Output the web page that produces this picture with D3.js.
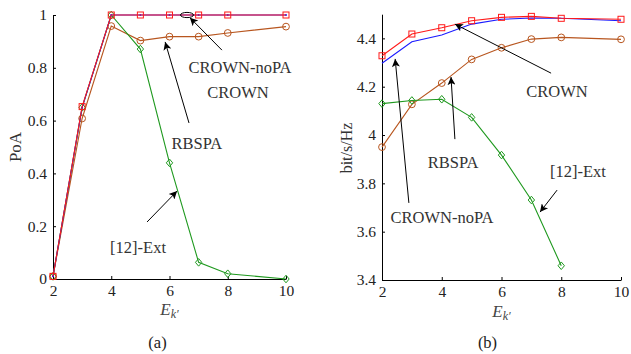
<!DOCTYPE html>
<html><head><meta charset="utf-8">
<script src="https://cdn.jsdelivr.net/npm/d3@7/dist/d3.min.js"></script>
<style>
body{margin:0;background:#fff;}
svg{display:block;font-family:"Liberation Serif","Times New Roman",serif;}
</style></head>
<body><svg id="c" width="631" height="354"></svg>
<script>
// ---------- data ----------
const xVals = [2, 3, 4, 5, 6, 7, 8, 10];
const xTicks = [2, 4, 6, 8, 10];
// (a) PoA
const poaCrown   = [0.01, 0.65, 1, 1, 1, 1, 1, 1];
const poaNoPA    = [0.01, 0.653, 1, 1, 1, 1, 1, 1];
const poaRbspa   = [0.01, 0.608, 0.958, 0.903, 0.918, 0.918, 0.932, 0.956];
const poaExt     = [0.01, 0.65, 1.0, 0.871, 0.44, 0.063, 0.02, 0.0];
const poaTicks   = [0, 0.2, 0.4, 0.6, 0.8, 1];
const poaTickLabels = ["0", "0.2", "0.4", "0.6", "0.8", "1"];
// (b) bit/s/Hz
const rateCrown  = [4.297, 4.386, 4.414, 4.459, 4.479, 4.484, 4.483, 4.473];
const rateNoPA   = [4.328, 4.418, 4.444, 4.473, 4.487, 4.491, 4.483, 4.479];
const rateRbspa  = [3.95, 4.127, 4.215, 4.313, 4.361, 4.397, 4.404, 4.396];
const rateExtX   = [2, 3, 4, 5, 6, 7, 8];
const rateExt    = [4.130, 4.143, 4.148, 4.073, 3.917, 3.731, 3.459];
const rateTicks  = [3.4, 3.6, 3.8, 4, 4.2, 4.4];
const rateTickLabels = ["3.4", "3.6", "3.8", "4", "4.2", "4.4"];

const COL = {red:"#ff1a1a", blue:"#1a1aff", brown:"#b8561f", green:"#1f991f"};

const svg = d3.select("#c");
const defs = svg.append("defs");
defs.append("marker").attr("id","ah").attr("viewBox","0 0 10 10").attr("refX",10).attr("refY",5)
  .attr("markerWidth",10).attr("markerHeight",8).attr("markerUnits","userSpaceOnUse").attr("orient","auto")
  .append("path").attr("d","M0,0 L10,5 L0,10 L2.5,5 Z").attr("fill","#000");

function panel(cfg){
  const g = svg.append("g");
  const x = d3.scaleLinear().domain([2,10]).range(cfg.xr);
  const y = d3.scaleLinear().domain(cfg.yd).range(cfg.yr);
  // axes
  const ax = g.append("g").attr("transform",`translate(0,${cfg.yr[0]})`)
    .call(d3.axisBottom(x).tickValues(xTicks).tickFormat(d3.format("d")).tickSize(-3).tickSizeOuter(0).tickPadding(5));
  const ay = g.append("g").attr("transform",`translate(${cfg.xr[0]},0)`)
    .call(d3.axisLeft(y).tickValues(cfg.yTicks).tickFormat((d,i)=>cfg.yLabels[i]).tickSize(-3).tickSizeOuter(0).tickPadding(6));
  [ax,ay].forEach(a=>{
    a.selectAll("text").attr("font-size",15.5).attr("fill","#222").attr("font-family","Liberation Serif");
    a.selectAll("path,line").attr("stroke","#000");
  });
  ax.selectAll("text").attr("dy","0.8em");
  // series
  const line = d3.line().x(d=>x(d[0])).y(d=>y(d[1]));
  cfg.series.forEach(s=>{
    const pts = s.xs.map((v,i)=>[v,s.ys[i]]);
    g.append("path").datum(pts).attr("d",line).attr("fill","none").attr("stroke",s.color).attr("stroke-width",1.1);
    const m = g.append("g");
    pts.forEach(p=>{
      const cx=x(p[0]), cy=y(p[1]);
      if(s.marker==="square") m.append("rect").attr("x",cx-3).attr("y",cy-3).attr("width",6).attr("height",6).attr("fill","none").attr("stroke",s.color);
      else if(s.marker==="circle") m.append("circle").attr("cx",cx).attr("cy",cy).attr("r",3.4).attr("fill","none").attr("stroke",s.color);
      else if(s.marker==="diamond") m.append("path").attr("d",`M${cx},${cy-3.8}L${cx+3.2},${cy}L${cx},${cy+3.8}L${cx-3.2},${cy}Z`).attr("fill","none").attr("stroke",s.color);
      else if(s.marker==="dot") m.append("circle").attr("cx",cx).attr("cy",cy).attr("r",1).attr("fill",s.color);
    });
  });
  // annotations
  cfg.arrows.forEach(a=>{
    g.append("line").attr("x1",x(a[0])).attr("y1",y(a[1])).attr("x2",x(a[2])).attr("y2",y(a[3]))
      .attr("stroke","#000").attr("stroke-width",1).attr("marker-end","url(#ah)");
  });
  cfg.texts.forEach(t=>{
    g.append("text").attr("x",x(t[1])).attr("y",y(t[2])).attr("dy","0.35em").attr("text-anchor","middle")
      .attr("font-size",16.5).attr("fill","#333").text(t[0]);
  });
  if(cfg.ellipse){
    g.append("ellipse").attr("cx",x(cfg.ellipse[0])).attr("cy",y(cfg.ellipse[1])).attr("rx",6.5).attr("ry",2.6)
      .attr("fill","none").attr("stroke","#000").attr("stroke-width",1);
  }
  // y label
  g.append("text").attr("transform",`translate(${cfg.ylabX},${cfg.ylabY}) rotate(-90)`).attr("text-anchor","middle")
    .attr("font-size",cfg.ylabSize).attr("fill","#333").text(cfg.ylab);
  // x label
  const xl = g.append("text").attr("x",x(6)).attr("y",cfg.xlabY).attr("text-anchor","middle").attr("fill","#444");
  xl.append("tspan").attr("font-style","italic").attr("font-size",17).text("E");
  xl.append("tspan").attr("font-style","italic").attr("font-size",12).attr("dy",3).text("k′");
  g.append("text").attr("x",x(6)-cfg.capShift).attr("y",348).attr("text-anchor","middle").attr("font-size",16.5).attr("fill","#222").text(cfg.cap);
}

panel({
  xr:[53,286], yd:[0,1], yr:[279,15], yTicks:poaTicks, yLabels:poaTickLabels,
  series:[
    {xs:xVals, ys:poaRbspa, color:COL.brown, marker:"circle"},
    {xs:xVals, ys:poaExt, color:COL.green, marker:"diamond"},
    {xs:xVals, ys:poaCrown, color:COL.blue, marker:"dot"},
    {xs:xVals, ys:poaNoPA, color:COL.red, marker:"square"}
  ],
  arrows:[[7.80,0.867,6.70,0.990],[6.67,0.591,5.85,0.898],[5.23,0.216,6.26,0.333]],
  texts:[["CROWN-noPA",8.42,0.803],["CROWN",8.35,0.708],["RBSPA",6.94,0.515],["[12]-Ext",4.92,0.121]],
  ellipse:[6.6,1.0],
  ylab:"PoA", ylabSize:17, ylabX:21, ylabY:147, xlabY:315, cap:"(a)", capShift:12
});

panel({
  xr:[382,621], yd:[3.4,4.5], yr:[280,14.2], yTicks:rateTicks, yLabels:rateTickLabels,
  series:[
    {xs:xVals, ys:rateRbspa, color:COL.brown, marker:"circle"},
    {xs:rateExtX, ys:rateExt, color:COL.green, marker:"diamond"},
    {xs:xVals, ys:rateCrown, color:COL.blue, marker:"none"},
    {xs:xVals, ys:rateNoPA, color:COL.red, marker:"square"}
  ],
  arrows:[[7.66,4.256,4.44,4.459],[4.44,3.983,4.31,4.240],[7.86,3.772,7.29,3.681],[2.90,3.719,2.44,4.315]],
  texts:[["CROWN",7.86,4.182],["RBSPA",4.38,3.888],["[12]-Ext",8.56,3.851],["CROWN-noPA",4.01,3.661]],
  ylab:"bit/s/Hz", ylabSize:16, ylabX:352, ylabY:148, xlabY:317, cap:"(b)", capShift:14
});
</script></body></html>
